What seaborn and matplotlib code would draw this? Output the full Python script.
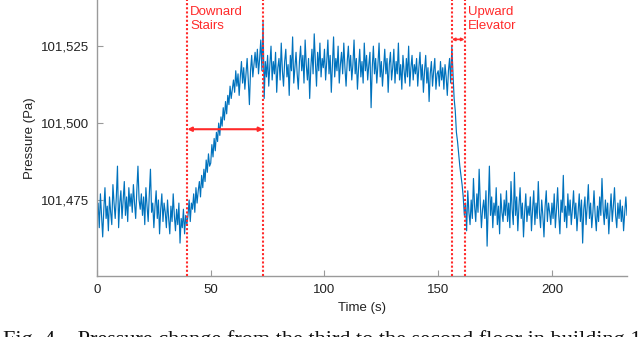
import numpy as np
import pandas as pd
import matplotlib
matplotlib.use("Agg")
import matplotlib.pyplot as plt
import seaborn as sns
from matplotlib.ticker import FuncFormatter

# ---------------- data ----------------
sample_step = 0.5  # seconds between samples
pressure_pa = [
    101468, 101474, 101466, 101477, 101470, 101463, 101472, 101479, 101469, 101473, 101465, 101476, 101471, 101467, 101480, 101474, 101469, 101476, 101486, 101466,
    101474, 101478, 101469, 101475, 101481, 101470, 101476, 101468, 101479, 101473, 101477, 101471, 101480, 101474, 101469, 101478, 101486, 101475, 101472, 101477,
    101470, 101476, 101467, 101479, 101473, 101468, 101477, 101485, 101471, 101474, 101466, 101473, 101478, 101469, 101475, 101464, 101472, 101477, 101468, 101474,
    101471, 101466, 101475, 101469, 101464, 101473, 101468, 101477, 101470, 101465, 101472, 101467, 101474, 101461, 101469, 101466, 101472, 101464, 101470, 101467,
    101470, 101475, 101468, 101474, 101472, 101477, 101471, 101479, 101474, 101478, 101481, 101476, 101483, 101479, 101485, 101481, 101488, 101484, 101490, 101486,
    101487, 101493, 101489, 101495, 101491, 101497, 101494, 101500, 101496, 101502, 101499, 101505, 101501, 101507, 101503, 101509, 101506, 101512, 101508, 101511,
    101514, 101510, 101517, 101512, 101516, 101509, 101515, 101520, 101513, 101518, 101511, 101516, 101521, 101514, 101506, 101517, 101522, 101515, 101519, 101523,
    101518, 101524, 101516, 101521, 101527, 101517, 101533, 101508, 101520, 101515, 101522, 101512, 101519, 101525, 101514, 101520, 101516, 101523, 101510, 101518,
    101521, 101514, 101526, 101517, 101512, 101520, 101524, 101515, 101519, 101509, 101522, 101517, 101528, 101513, 101518, 101523, 101516, 101511, 101520, 101525,
    101517, 101522, 101513, 101527, 101519, 101514, 101521, 101508, 101518, 101524, 101516, 101529, 101520, 101512, 101523, 101517, 101526, 101515, 101521, 101518,
    101524, 101514, 101520, 101527, 101516, 101522, 101510, 101519, 101528, 101515, 101521, 101517, 101525, 101513, 101519, 101523, 101516, 101526, 101518, 101512,
    101520, 101525, 101517, 101522, 101514, 101519, 101527, 101516, 101521, 101511, 101518, 101524, 101515, 101520, 101513, 101526, 101517, 101522, 101514, 101519,
    101523, 101505, 101518, 101525, 101516, 101521, 101513, 101519, 101526, 101515, 101520, 101512, 101518, 101524, 101516, 101521, 101510, 101519, 101523, 101514,
    101518, 101524, 101513, 101520, 101516, 101526, 101514, 101519, 101511, 101522, 101517, 101513, 101521, 101515, 101525, 101512, 101518, 101522, 101514, 101519,
    101516, 101521, 101512, 101518, 101523, 101514, 101519, 101510, 101517, 101522, 101513, 101518, 101507, 101516, 101520, 101512, 101517, 101521, 101511, 101516,
    101517, 101512, 101520, 101514, 101518, 101511, 101519, 101515, 101509, 101517, 101521, 101513, 101525, 101516, 101508, 101504, 101497, 101494, 101490, 101486,
    101483, 101480, 101476, 101470, 101474, 101465, 101478, 101471, 101467, 101475, 101469, 101482, 101473, 101468, 101477, 101471, 101485, 101474, 101466, 101472,
    101475, 101469, 101478, 101460, 101473, 101486, 101470, 101476, 101466, 101474, 101470, 101479, 101467, 101473, 101464, 101477, 101471, 101468, 101475, 101470,
    101478, 101468, 101474, 101466, 101481, 101472, 101467, 101484, 101470, 101476, 101465, 101473, 101479, 101469, 101474, 101463, 101471, 101477, 101468, 101473,
    101470, 101476, 101465, 101472, 101478, 101467, 101474, 101469, 101481, 101471, 101466, 101475, 101470, 101463, 101473, 101478, 101468, 101474, 101471, 101467,
    101474, 101469, 101477, 101466, 101472, 101479, 101470, 101464, 101475, 101471, 101483, 101468, 101473, 101466, 101477, 101470, 101475, 101467, 101472, 101478,
    101469, 101474, 101465, 101471, 101477, 101468, 101475, 101461, 101472, 101476, 101467, 101473, 101480, 101469, 101474, 101466, 101471, 101478, 101470, 101465,
    101473, 101468, 101476, 101470, 101482, 101472, 101467, 101475, 101469, 101474, 101464, 101471, 101477, 101468, 101473, 101479, 101470, 101466, 101474, 101469,
    101475, 101468, 101473, 101465, 101471, 101476, 101470,
]
time_s = np.arange(len(pressure_pa)) * sample_step

event_bounds = [39.7, 73.1, 156.0, 161.6]      # dotted vertical markers (s)
event_labels = ["Downard\nStairs", "Upward\nElevator"]
arrow_levels = [101498, 101527.2]              # pressure level of the span arrows
x_ticks = [0, 50, 100, 150, 200]
y_ticks = [101475, 101500, 101525]
x_limits = [0, 233]
y_limits = [101450.3, 101540]
caption = "Fig. 4.   Pressure change from the third to the second floor in building 1"

df = pd.DataFrame({"Time (s)": time_s, "Pressure (Pa)": pressure_pa})

# ---------------- plotting ----------------
sns.set_theme(style="white")
plt.rcParams["font.family"] = ["Liberation Sans", "DejaVu Sans"]

fig = plt.figure(figsize=(6.4, 3.37), dpi=100)
ax = fig.add_axes([97 / 640, 61 / 337, 530 / 640, 276 / 337])

sns.lineplot(data=df, x="Time (s)", y="Pressure (Pa)", ax=ax,
             color="#0072BD", linewidth=0.85, estimator=None)

red = "#FF2A2A"
for xb in event_bounds:
    ax.axvline(xb, color=red, linestyle=(0, (1, 1)), linewidth=1.5, zorder=3)

ax.annotate("", xy=(event_bounds[0], arrow_levels[0]), xytext=(event_bounds[1], arrow_levels[0]),
            arrowprops=dict(arrowstyle="<|-|>", color=red, lw=1.5, mutation_scale=6,
                            shrinkA=0, shrinkB=0))
ax.annotate("", xy=(event_bounds[2], arrow_levels[1]), xytext=(event_bounds[3], arrow_levels[1]),
            arrowprops=dict(arrowstyle="<|-|>", color=red, lw=1.2, mutation_scale=4,
                            shrinkA=0, shrinkB=0))

ax.text(event_bounds[0] + 1.2, 101538.2, event_labels[0], color=red, fontsize=9.5,
        ha="left", va="top", linespacing=1.3)
ax.text(event_bounds[3] + 1.6, 101538.2, event_labels[1], color=red, fontsize=9.5,
        ha="left", va="top", linespacing=1.3)

ax.set_xlim(*x_limits)
ax.set_ylim(*y_limits)
ax.set_xticks(x_ticks)
ax.set_yticks(y_ticks)
ax.yaxis.set_major_formatter(FuncFormatter(lambda v, p: f"{int(round(v)):,}"))

spine_col = "#9a9a9a"
for s in ["top", "right"]:
    ax.spines[s].set_visible(False)
for s in ["left", "bottom"]:
    ax.spines[s].set_color(spine_col)
    ax.spines[s].set_linewidth(1.0)
ax.tick_params(axis="both", direction="in", length=4, width=0.8, color=spine_col,
               labelsize=9.5, labelcolor="#222222", pad=6, left=True, bottom=True)

ax.set_xlabel("Time (s)", fontsize=9.5, color="#222222", labelpad=4)
ax.set_ylabel("Pressure (Pa)", fontsize=9.5, color="#222222", labelpad=3)

fig.text(0.004, 7 / 337, caption,
         family=["Liberation Serif", "DejaVu Serif"], fontsize=16, color="#111111",
         ha="left", va="top")

fig.savefig("out.png", dpi=100)
